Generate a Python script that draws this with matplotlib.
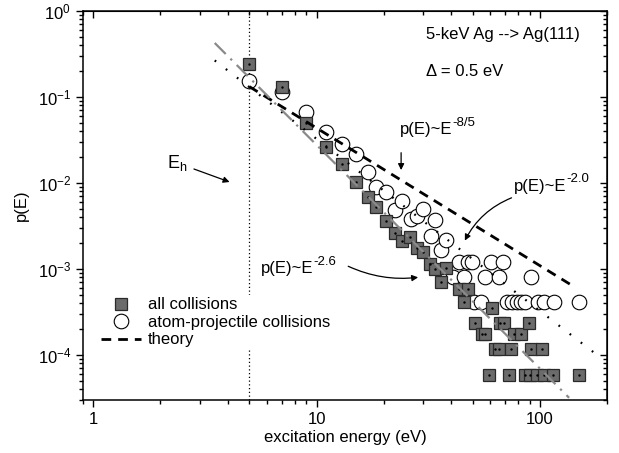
import matplotlib
matplotlib.use("Agg")
import matplotlib.pyplot as plt
import numpy as np
from matplotlib.ticker import LogLocator, FuncFormatter, NullFormatter

plt.rcParams['font.family'] = ['Liberation Sans', 'DejaVu Sans']
plt.rcParams['mathtext.fontset'] = 'custom'
plt.rcParams['mathtext.rm'] = 'Liberation Sans'
plt.rcParams['mathtext.it'] = 'Liberation Sans:italic'
plt.rcParams['mathtext.bf'] = 'Liberation Sans:bold'

# ---- data: all collisions (squares) ----
sq_E = [5, 7, 9, 11, 13, 15, 17, 18.5, 20.5, 22.4, 24.1, 26.2, 28.1, 29.9, 32.1,
        33.8, 35.9, 37.8, 43.2, 45.5, 47.4, 51.3, 55.2, 57.0, 59.3, 61.2, 63.2,
        65.6, 66.4, 69.0, 72.8, 74.4, 76.6, 82.0, 85.8, 89.5, 90.3, 91.1, 97.0,
        101.9, 104, 114, 149]
sq_p = [0.242, 0.131, 0.0499, 0.0262, 0.0166, 0.0103, 6.88e-3, 5.26e-3, 3.61e-3,
        2.62e-3, 2.12e-3, 2.36e-3, 1.75e-3, 1.58e-3, 1.14e-3, 1.0e-3, 7.06e-4,
        1.03e-3, 5.85e-4, 4.1e-4, 5.85e-4, 2.34e-4, 1.75e-4, 1.75e-4, 5.85e-5,
        3.5e-4, 1.17e-4, 1.17e-4, 2.34e-4, 2.34e-4, 5.85e-5, 1.17e-4, 1.75e-4,
        1.75e-4, 5.85e-5, 2.34e-4, 5.85e-5, 1.17e-4, 5.85e-5, 1.17e-4, 5.85e-5,
        5.85e-5, 5.85e-5]

# ---- data: atom-projectile collisions (circles) ----
ci_E = [5, 7, 9, 11, 13, 15, 17, 18.5, 20.5, 22.4, 24.1, 26.4, 28.1, 30.1, 32.4,
        33.8, 35.9, 37.8,
        43.6, 47.4, 49.5, 60.6, 68.5,
        41.0, 45.5, 57.0, 65.7, 91.5,
        50.9, 54.3, 71.3, 75.0, 79.0, 82.1, 85.9, 98.1, 104, 115, 149]
ci_p = [0.153, 0.114, 0.067, 0.0392, 0.0284, 0.0217, 0.0134, 8.98e-3, 7.85e-3,
        4.85e-3, 6.18e-3, 3.81e-3, 4.13e-3, 4.99e-3, 2.42e-3, 3.72e-3, 1.66e-3,
        2.17e-3,
        1.2e-3, 1.2e-3, 1.2e-3, 1.2e-3, 1.2e-3,
        8.1e-4, 8.1e-4, 8.1e-4, 8.1e-4, 8.1e-4,
        4.1e-4, 4.1e-4, 4.1e-4, 4.1e-4, 4.1e-4, 4.1e-4, 4.1e-4, 4.1e-4, 4.1e-4,
        4.1e-4, 4.1e-4]

# ---- power laws ----
theory_exp = -8 / 5
theory_A = 1.73
theory_range = [5.0, 136.0]
dot_exp = -2.0
dot_A = 3.25
dot_range = [3.5, 175.0]
gray_exp = -2.6
gray_A = 11.0
gray_range = [3.5, 135.0]

E_h = 5.0

fig = plt.figure(figsize=(6.19, 4.53), dpi=100)
ax = fig.add_axes([0.134, 0.117, 0.847, 0.859])
ax.set_xscale('log')
ax.set_yscale('log')
ax.set_xlim(0.9, 200)
ax.set_ylim(3e-5, 1)

ax.axvline(E_h, color='black', lw=0.9, ls=(0, (1, 2)), zorder=1)

ci, = ax.plot(ci_E, ci_p, ls='none', marker='o', ms=10.5, mfc='white', mec='black',
              mew=0.8, zorder=3, label='atom-projectile collisions')
sq, = ax.plot(sq_E, sq_p, ls='none', marker='s', ms=9, mfc='#6b6b6b', mec='#2a2a2a',
              mew=0.9, zorder=4, label='all collisions')
ax.plot(sq_E, sq_p, ls='none', marker='.', ms=1.5, color='black', zorder=4.5)

xt = np.logspace(np.log10(theory_range[0]), np.log10(theory_range[1]), 100)
th, = ax.plot(xt, theory_A * xt ** theory_exp, color='black', lw=2,
              ls=(0, (3.5, 2.5)), zorder=5, label='theory')
xd = np.logspace(np.log10(dot_range[0]), np.log10(dot_range[1]), 100)
ax.plot(xd, dot_A * xd ** dot_exp, color='black', lw=1.6, ls=(0, (0.8, 5.5)), zorder=5)
xg = np.logspace(np.log10(gray_range[0]), np.log10(gray_range[1]), 100)
ax.plot(xg, gray_A * xg ** gray_exp, color='#8a8a8a', lw=1.6,
        ls=(0, (7, 3, 1, 3)), zorder=5)

fs = 12


def power_label(x, y, sup):
    t = ax.text(x, y, 'p(E)~E', fontsize=fs, ha='left', va='center')
    ax.annotate(sup, xy=(1.0, 0.55), xycoords=t, fontsize=9.5, ha='left', va='bottom')
    return t


ax.text(30.8, 0.53, '5-keV Ag --> Ag(111)', fontsize=fs, ha='left', va='center')
ax.text(30.8, 0.195, '\u0394 = 0.5 eV', fontsize=fs, ha='left', va='center')

power_label(23.6, 0.042, '-8/5')
ax.annotate('', xy=(23.9, 0.0131), xytext=(23.9, 0.0242),
            arrowprops=dict(arrowstyle='-|>', color='black', lw=0.9, mutation_scale=9))
power_label(76.6, 9.2e-3, '-2.0')
ax.annotate('', xy=(45.5, 2.0e-3), xytext=(76.6, 6.9e-3),
            arrowprops=dict(arrowstyle='-|>', color='black', lw=0.9, mutation_scale=9,
                            connectionstyle='arc3,rad=0.2'))
power_label(5.64, 1.0e-3, '-2.6')
ax.annotate('', xy=(29.3, 8.07e-4), xytext=(13.5, 1.11e-3),
            arrowprops=dict(arrowstyle='-|>', color='black', lw=0.9, mutation_scale=9,
                            connectionstyle='arc3,rad=0.15'))
ax.text(2.13, 0.0171, r'E$_{\mathregular{h}}$', fontsize=13, ha='left', va='center')
ax.annotate('', xy=(4.19, 0.0100), xytext=(2.75, 0.0149),
            arrowprops=dict(arrowstyle='-|>', color='black', lw=0.9, mutation_scale=9))

# axes styling
ax.xaxis.set_major_locator(LogLocator(base=10, numticks=10))
ax.xaxis.set_minor_locator(LogLocator(base=10, subs=np.arange(2, 10), numticks=10))
ax.xaxis.set_major_formatter(FuncFormatter(lambda v, p: f'{v:g}'))
ax.xaxis.set_minor_formatter(NullFormatter())
ax.yaxis.set_major_locator(LogLocator(base=10, numticks=10))
ax.yaxis.set_minor_locator(LogLocator(base=10, subs=np.arange(2, 10), numticks=10))
ax.yaxis.set_minor_formatter(NullFormatter())

ax.tick_params(axis='both', which='both', direction='out', top=False, right=False,
               labelsize=12, width=1.0)
ax.tick_params(which='major', length=5)
ax.tick_params(which='minor', length=3)
for s in ax.spines.values():
    s.set_linewidth(1.1)

axt = ax.secondary_xaxis('top')
axt.xaxis.set_major_locator(LogLocator(base=10, numticks=10))
axt.xaxis.set_minor_locator(LogLocator(base=10, subs=np.arange(2, 10), numticks=10))
axt.tick_params(which='both', direction='in', labeltop=False, width=1.0)
axt.tick_params(which='major', length=5)
axt.tick_params(which='minor', length=3)
axr = ax.secondary_yaxis('right')
axr.yaxis.set_major_locator(LogLocator(base=10, numticks=10))
axr.yaxis.set_minor_locator(LogLocator(base=10, subs=np.arange(2, 10), numticks=10))
axr.tick_params(which='both', direction='in', labelright=False, width=1.0)
axr.tick_params(which='major', length=5)
axr.tick_params(which='minor', length=3)

ax.set_xlabel('excitation energy (eV)', fontsize=12, labelpad=2)
ax.set_ylabel('p(E)', fontsize=12, labelpad=6)

leg = ax.legend(handles=[sq, ci, th], loc='upper left',
                bbox_to_anchor=(0.03, 0.27), frameon=True, fontsize=12,
                handlelength=2.4, labelspacing=0.15, borderpad=0.15,
                handletextpad=0.4, borderaxespad=0)
leg.get_frame().set_facecolor('white')
leg.get_frame().set_edgecolor('none')
leg.get_frame().set_alpha(1)
leg.set_zorder(10)

fig.savefig('out.png', dpi=100)
